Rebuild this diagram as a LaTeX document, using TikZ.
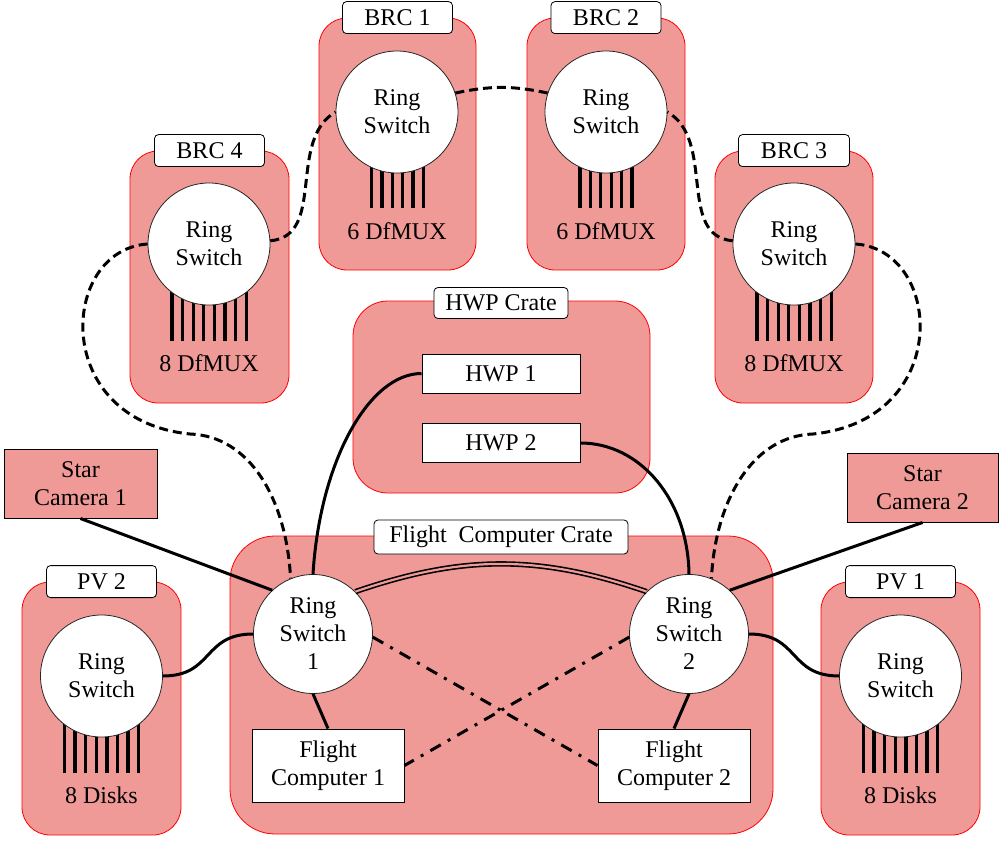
\documentclass[tikz,border=0pt]{standalone}
\usepackage{fontspec}
\setmainfont{Liberation Serif}
\definecolor{cratefill}{RGB}{240,154,152}
\tikzset{
  cratebox/.style={draw=red, line width=0.8pt, fill=cratefill, rounded corners=28pt, inner sep=0pt},
  tagbox/.style={draw=black, line width=0.8pt, fill=white, rounded corners=4pt, minimum height=32pt, inner sep=0pt},
  ring/.style={circle, draw=black!85, line width=0.8pt, fill=white, minimum size=122pt, inner sep=0pt, align=center},
  smallring/.style={ring, minimum size=119pt},
  plainbox/.style={draw=black, line width=1pt, fill=white, inner sep=0pt, align=center},
  cambox/.style={draw=black, line width=1pt, fill=cratefill, inner sep=0pt, align=center},
  fan/.style={line width=3.3pt},
  wire/.style={line width=3pt},
  ringlink/.style={line width=3pt, dash pattern=on 9pt off 5pt},
  crosslink/.style={line width=3pt, dash pattern=on 12pt off 8pt on 3pt off 8pt},
  doublelink/.style={line width=1.6pt, double=cratefill, double distance=2.2pt},
}
\begin{document}
\begin{tikzpicture}[x=1pt,y=-1pt, font=\fontsize{24}{28}\selectfont]
\useasboundingbox (0,0) rectangle (1005,848);
% crates
\node[cratebox, minimum width=157pt, minimum height=252pt] (brc1box) at (397.5,144) {};
\node[cratebox, minimum width=158pt, minimum height=252pt] (brc2box) at (606,144) {};
\node[cratebox, minimum width=159pt, minimum height=252pt] (brc4box) at (209.5,277) {};
\node[cratebox, minimum width=158pt, minimum height=252pt] (brc3box) at (794,277) {};
\node[cratebox, rounded corners=35pt, minimum width=297pt, minimum height=192pt] (hwpbox) at (501.5,397) {};
\node[cratebox, rounded corners=45pt, minimum width=543pt, minimum height=298pt] (fcbox) at (501.5,685) {};
\node[cratebox, minimum width=159pt, minimum height=253pt] (pv2box) at (101.5,708.5) {};
\node[cratebox, minimum width=159pt, minimum height=253pt] (pv1box) at (900.5,708.5) {};
% tags
\node[tagbox, minimum width=110pt] (tag1) at (brc1box.north) {BRC 1};
\node[tagbox, minimum width=110pt] (tag2) at (brc2box.north) {BRC 2};
\node[tagbox, minimum width=110pt] (tag4) at (brc4box.north) {BRC 4};
\node[tagbox, minimum width=111pt] (tag3) at (brc3box.north) {BRC 3};
\node[tagbox, minimum width=134pt, minimum height=31pt] (taghwp) at (501,303) {HWP Crate};
\node[tagbox, minimum width=254pt, minimum height=34pt] (tagfc) at (501,537) {Flight\ \ Computer Crate};
\node[tagbox, minimum width=110pt] (tagpv2) at (pv2box.north) {PV 2};
\node[tagbox, minimum width=110pt] (tagpv1) at (pv1box.north) {PV 1};
% fan-out lines
\foreach \i in {0,...,5} {
  \draw[fan] ({371.5+\i*10.4},150) -- ({371.5+\i*10.4},208);
  \draw[fan] ({580+\i*10.4},150) -- ({580+\i*10.4},208);
}
\foreach \i in {0,...,7} {
  \draw[fan] ({172+\i*10.6},280) -- ({172+\i*10.6},341);
  \draw[fan] ({757+\i*10.6},280) -- ({757+\i*10.6},341);
  \draw[fan] ({64.5+\i*10.6},712) -- ({64.5+\i*10.6},773);
  \draw[fan] ({863.5+\i*10.6},712) -- ({863.5+\i*10.6},773);
}
% counts
\node (n1) at (397,231) {6 DfMUX};
\node (n2) at (606,231) {6 DfMUX};
\node (n4) at (209,363) {8 DfMUX};
\node (n3) at (794,363) {8 DfMUX};
\node (d2) at (101.5,795) {8 Disks};
\node (d1) at (900.5,795) {8 Disks};
% ring switches
\node[ring] (b1) at (397,112) {Ring\\Switch};
\node[ring] (b2) at (606,112) {Ring\\Switch};
\node[ring] (b4) at (209,244) {Ring\\Switch};
\node[ring] (b3) at (794,244) {Ring\\Switch};
\node[ring] (pv2) at (101.5,676) {Ring\\Switch};
\node[ring] (pv1) at (900.5,676) {Ring\\Switch};
\node[smallring] (rs1) at (313,634) {Ring\\Switch\\1};
\node[smallring] (rs2) at (689,634) {Ring\\Switch\\2};
% boxes
\node[plainbox, minimum width=158pt, minimum height=39pt] (hwp1) at (501,373.5) {HWP 1};
\node[plainbox, minimum width=158pt, minimum height=39pt] (hwp2) at (501,443) {HWP 2};
\node[plainbox, minimum width=152pt, minimum height=73pt] (fc1) at (328,765.5) {Flight\\Computer 1};
\node[plainbox, minimum width=152pt, minimum height=73pt] (fc2) at (674,765.5) {Flight\\Computer 2};
\node[cambox, minimum width=153pt, minimum height=69pt] (sc1) at (80.5,483.5) {Star\\Camera 1};
\node[cambox, minimum width=151pt, minimum height=69pt] (sc2) at (922.5,487.5) {Star\\Camera 2};
\coordinate (dl) at (190,434);
\coordinate (dr) at (813,434);
% ring links
\draw[ringlink] (b1.18) to[bend left=12] (b2.162);
\draw[ringlink] (b4.3) to[out=5,in=210] (b1.west);
\draw[ringlink] (b3.177) to[out=175,in=-30] (b2.east);
\draw[ringlink] (b4.west) .. controls +(-88,6) and +(-140,-14) .. (dl)
  .. controls +(60,2) and +(-4,-79) .. (rs1.112);
\draw[ringlink] (b3.east) .. controls +(88,6) and +(140,-14) .. (dr)
  .. controls +(-60,2) and +(4,-79) .. (rs2.68);
% wires
\draw[wire] (rs1.north) .. controls +(7,-114) and +(-52,0) .. (hwp1.west);
\draw[wire] (hwp2.east) .. controls +(60,0) and +(-1,-74) .. (rs2.north);
\draw[wire] (sc1.south) -- (rs1.133);
\draw[wire] (sc2.south) -- (rs2.47);
\draw[wire] (pv2.east) to[out=0,in=180,looseness=1.3] (rs1.west);
\draw[wire] (rs2.east) to[out=0,in=180,looseness=1.3] (pv1.west);
\draw[wire] (rs1.south) -- (fc1.north);
\draw[wire] (rs2.south) -- (fc2.north);
\draw[crosslink] (rs1.-3) -- (fc2.west);
\draw[crosslink] (rs2.183) -- (fc1.east);
\draw[doublelink] (rs1.45) to[bend left=19] (rs2.135);
\end{tikzpicture}
\end{document}
